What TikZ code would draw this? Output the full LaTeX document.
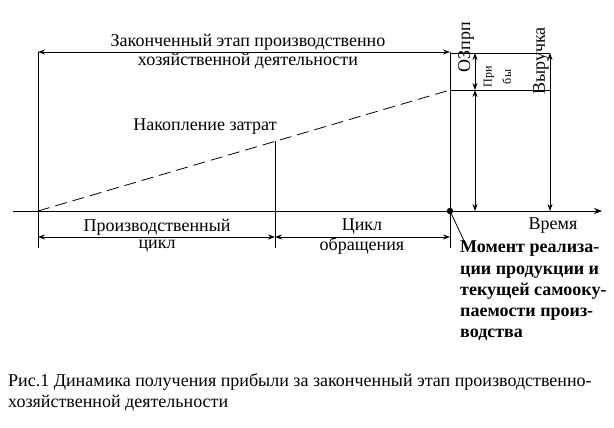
\documentclass[tikz,border=0pt]{standalone}
\usepackage{fontspec}
\setmainfont{Liberation Serif}
\usetikzlibrary{arrows.meta}
\begin{document}
\begin{tikzpicture}[x=1pt,y=-1pt,
  every node/.style={inner sep=0pt,font=\fontsize{18}{21}\selectfont},
  ln/.style={line width=0.8pt},
  dim/.style={line width=0.8pt,{Stealth[length=7pt,width=5pt,inset=2.5pt]}-{Stealth[length=7pt,width=5pt,inset=2.5pt]}},
  small/.style={font=\fontsize{12}{14}\selectfont},
  bigb/.style={font=\fontsize{18}{21.2}\selectfont\bfseries}]
\useasboundingbox (0,0) rectangle (614,428);
\fill[white] (0,0) rectangle (614,428);
% coordinates
\coordinate (axL) at (13,211);
\coordinate (axR) at (602,211);
\coordinate (O) at (38,211);
\coordinate (M) at (275,211);
\coordinate (D) at (450,211);
\coordinate (Otop) at (38,52);
\coordinate (Obot) at (38,248);
\coordinate (Mtop) at (275,141);
\coordinate (Mbot) at (275,248);
\coordinate (Dtop) at (450,52);
\coordinate (Dbot) at (450,248);
\coordinate (Dmid) at (450,90);
\coordinate (Btr) at (550,53);
\coordinate (Bmr) at (550,90);
\coordinate (Bbr) at (550,211);
\coordinate (Ptop) at (475,53);
\coordinate (Pmid) at (475,90);
\coordinate (Pbot) at (475,211);
% axis
\draw[ln,-{Stealth[length=8pt,width=6pt]}] (axL) -- (axR);
% verticals
\draw[ln] (Otop) -- (Obot);
\draw[ln] (Mtop) -- (Mbot);
\draw[ln] (Dtop) -- (Dbot);
\draw[ln] (Dtop |- Btr) -- (Btr);
\draw[ln] (Dmid) -- (Bmr);
% dashed accumulation line
\draw[ln,dash pattern=on 12pt off 6pt] (O) -- (Dmid);
% dimension arrows
\draw[dim] (Otop) -- (Dtop);
\draw[dim] (38,237) coordinate (b1) -- (275,237) coordinate (b2);
\draw[dim] (b2) -- (450,237) coordinate (b3);
\draw[dim] (Ptop) -- (Pmid);
\draw[dim] (Pmid) -- (Pbot);
\draw[dim] (Btr) -- (Bbr);
% dot and leader
\fill (D) circle (3.2pt);
\coordinate (lead) at (466,245);
\draw[ln] (D) -- (lead);
% texts
\node (t1) at (248,42) {Законченный этап производственно};
\node (t2) at (248,61) {хозяйственной деятельности};
\node (nz) at (205,127) {Накопление затрат};
\node (pc1) at (157,227) {Производственный};
\node (pc2) at (157,246) {цикл};
\node (co1) at (362,227) {Цикл};
\node (co2) at (362,246) {обращения};
\node (vr) at (553,226) {Время};
\node[rotate=90] (oz) at (466,47) {ОЗпрп};
\node[rotate=90,small] (pr1) at (489,77) {При};
\node[rotate=90,small] (pr2) at (507,77) {бы};
\node[rotate=90] (vy) at (541,61) {Выручка};
\node[anchor=north west,align=left,bigb] (mom) at (460,241) {Момент реализа-\\ции продукции и\\текущей самооку-\\паемости произ-\\водства};
\node[anchor=north west,align=left] (cap) at (8,373) {Рис.1 Динамика получения прибыли за законченный этап производственно-\\хозяйственной деятельности};
\end{tikzpicture}
\end{document}
